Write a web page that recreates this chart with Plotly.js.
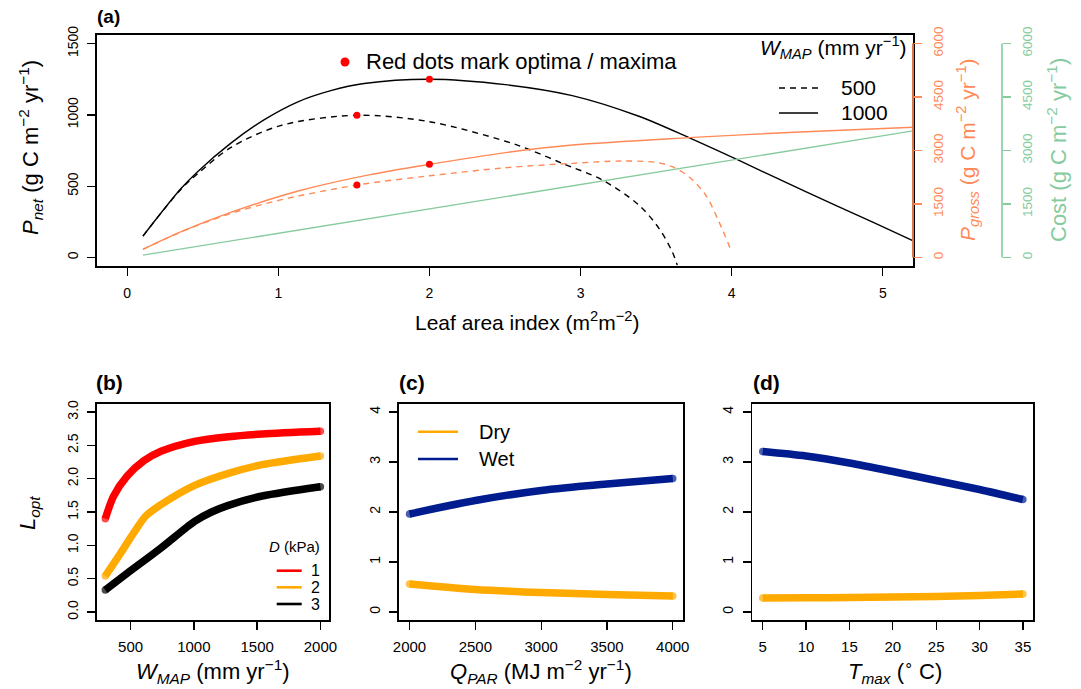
<!DOCTYPE html>
<html>
<head>
<meta charset="utf-8">
<script src="https://cdn.plot.ly/plotly-3.0.1.min.js"></script>
<style>html,body{margin:0;padding:0;background:#fff;}#chart{width:1081px;height:689px;}</style>
</head>
<body>
<div id="chart"></div>
<script>
// ---------------- DATA ----------------
// Panel (a): leaf area index curves
const laiPnet1000 = [0.104, 0.353, 0.464, 0.684, 0.905, 1.126, 1.347, 1.567, 2.0, 2.503, 2.945, 3.386, 3.717, 4.049, 4.49, 4.93, 5.207];
const pnet1000    = [150, 480, 600, 800, 965, 1090, 1170, 1220, 1250, 1212, 1135, 990, 840, 680, 461, 250, 114];
const laiPnet500  = [0.104, 0.353, 0.464, 0.684, 1.015, 1.52, 2.0, 2.503, 2.669, 2.879, 3.144, 3.386, 3.519, 3.607, 3.64];
const pnet500     = [150, 475, 585, 770, 925, 997, 952, 815, 753, 660, 543, 367, 204, 39, -54];
const laiPgross1000 = [0.104, 0.353, 0.684, 1.126, 1.567, 2.0, 2.517, 2.945, 3.717, 4.49, 5.207];
const pgross1000    = [225, 715, 1262, 1857, 2288, 2612, 2949, 3154, 3360, 3528, 3652];
const laiPgross500  = [0.104, 0.353, 0.684, 1.015, 1.52, 2.0, 2.503, 2.945, 3.276, 3.497, 3.607, 3.717, 3.828, 3.916, 4.0];
const pgross500     = [225, 710, 1232, 1613, 2031, 2290, 2517, 2640, 2705, 2668, 2545, 2264, 1750, 1000, 157];
const laiCost = [0.104, 5.207];
const cost    = [65, 3556];
const optLAI    = [1.52, 2.0];
const optPnet   = [997, 1250];
const optPgross = [2031, 2612];
const pnetTicks = [0, 500, 1000, 1500];
const rightTicks = [0, 1500, 3000, 4500, 6000];
const laiTicks = [0, 1, 2, 3, 4, 5];

// Panel (b): L_opt vs W_MAP for D = 1, 2, 3 kPa
const wmapD1 = [300, 366, 473, 606, 740, 1006, 1273, 1540, 2000];
const loptD1 = [1.40, 1.74, 2.04, 2.27, 2.41, 2.56, 2.63, 2.67, 2.71];
const wmapD2 = [300, 420, 526, 620, 740, 1006, 1273, 1540, 2000];
const loptD2 = [0.54, 0.88, 1.19, 1.44, 1.61, 1.90, 2.08, 2.21, 2.34];
const wmapD3 = [300, 473, 740, 1006, 1140, 1273, 1540, 2000];
const loptD3 = [0.33, 0.58, 0.96, 1.36, 1.50, 1.60, 1.74, 1.88];
const bTicksX = [500, 1000, 1500, 2000];
const bTicksY = [0, 0.5, 1, 1.5, 2, 2.5, 3];

// Panel (c): L_opt vs Q_PAR
const qpar   = [2000, 2500, 3000, 3500, 4000];
const qpWet  = [1.96, 2.23, 2.43, 2.56, 2.67];
const qpDry  = [0.56, 0.45, 0.39, 0.35, 0.32];
const cTicksX = [2000, 2500, 3000, 3500, 4000];

// Panel (d): L_opt vs T_max
const tmax  = [5, 10, 15, 20, 25, 30, 35];
const tWet  = [3.21, 3.12, 2.98, 2.81, 2.63, 2.45, 2.25];
const tDry  = [0.28, 0.285, 0.29, 0.30, 0.31, 0.33, 0.36];
const dTicksX = [5, 10, 15, 20, 25, 30, 35];
const cdTicksY = [0, 1, 2, 3, 4];

// ---------------- STYLE ----------------
const W = 1081, H = 689;
const X = px => px / W;
const Y = py => 1 - py / H;
const FONT = 'Liberation Sans, Arial, Helvetica, sans-serif';
const ORANGE = '#FF8A57', GREEN = '#86CB9E', RED = '#FF0000', GOLD = '#FFAA00', NAVY = '#001C8E';

function endCaps(n, s) { const a = new Array(n).fill(0); a[0] = s; a[n - 1] = s; return a; }
function thick(x, y, color, xa, ya) {
  return { x: x, y: y, xaxis: xa, yaxis: ya, mode: 'lines+markers', line: { color: color, width: 7.5, shape: 'spline', smoothing: 0.8 },
    marker: { color: color, size: endCaps(x.length, 7.5), line: { width: 0 } }, hoverinfo: 'skip' };
}
const thin = (color, dash) => ({ color: color, width: 1.4, dash: dash || 'solid', shape: 'spline', smoothing: 0.9 });

const traces = [
  { x: laiCost, y: cost, yaxis: 'y3', xaxis: 'x', mode: 'lines', line: { color: GREEN, width: 1.4 } },
  { x: laiPgross500, y: pgross500, yaxis: 'y2', xaxis: 'x', mode: 'lines', line: thin(ORANGE, '6px,5px') },
  { x: laiPgross1000, y: pgross1000, yaxis: 'y2', xaxis: 'x', mode: 'lines', line: thin(ORANGE) },
  { x: laiPnet500, y: pnet500, yaxis: 'y', xaxis: 'x', mode: 'lines', line: thin('black', '6px,5px') },
  { x: laiPnet1000, y: pnet1000, yaxis: 'y', xaxis: 'x', mode: 'lines', line: thin('black') },
  { x: optLAI, y: optPnet, yaxis: 'y', xaxis: 'x', mode: 'markers', marker: { color: RED, size: 7 } },
  { x: optLAI, y: optPgross, yaxis: 'y2', xaxis: 'x', mode: 'markers', marker: { color: RED, size: 7 } },
  thick(wmapD1, loptD1, RED, 'x2', 'y4'),
  thick(wmapD2, loptD2, GOLD, 'x2', 'y4'),
  thick(wmapD3, loptD3, 'black', 'x2', 'y4'),
  thick(qpar, qpDry, GOLD, 'x3', 'y5'),
  thick(qpar, qpWet, NAVY, 'x3', 'y5'),
  thick(tmax, tDry, GOLD, 'x4', 'y6'),
  thick(tmax, tWet, NAVY, 'x4', 'y6')
];

const baseAxis = {
  showgrid: false, zeroline: false, ticks: 'outside', ticklen: 8, tickwidth: 1.3, tickcolor: 'black',
  showline: true, mirror: true, linecolor: 'black', linewidth: 1.6,
  tickfont: { family: FONT, size: 14, color: 'black' }, fixedrange: true
};
function ax(o) { return Object.assign({}, baseAxis, o); }
const xFont = { family: FONT, size: 15, color: 'black' };

const topDom = [Y(266), Y(35)];
const botDom = [Y(620), Y(404)];

const layout = {
  width: W, height: H, margin: { l: 0, r: 0, t: 0, b: 0 },
  paper_bgcolor: 'white', plot_bgcolor: 'white', showlegend: false,
  font: { family: FONT, color: 'black' },
  xaxis: ax({ domain: [X(97), X(913)], anchor: 'y', range: [-0.2, 5.2], tickvals: laiTicks, ticktext: laiTicks.map(String), ticklabelstandoff: 6, tickfont: { family: FONT, size: 14, color: 'black' } }),
  yaxis: ax({ domain: topDom, anchor: 'x', range: [-60, 1560], tickvals: pnetTicks, ticktext: pnetTicks.map(String), tickangle: -90, ticklabelstandoff: 4 }),
  yaxis2: { overlaying: 'y', side: 'right', anchor: 'x', range: [-240, 6240], tickvals: rightTicks, ticktext: rightTicks.map(String),
    showgrid: false, zeroline: false, showline: false, ticks: 'outside', ticklen: 8, tickwidth: 1.3, tickcolor: ORANGE, tickangle: -90,
    tickfont: { family: FONT, size: 13.5, color: ORANGE }, ticklabelstandoff: 5, fixedrange: true },
  yaxis3: { overlaying: 'y', side: 'right', anchor: 'free', position: X(1002), range: [-240, 6240], tickvals: rightTicks, ticktext: rightTicks.map(String),
    showgrid: false, zeroline: false, showline: false, ticks: 'outside', ticklen: 8, tickwidth: 1.3, tickcolor: GREEN, tickangle: -90,
    tickfont: { family: FONT, size: 13.5, color: GREEN }, ticklabelstandoff: 5, fixedrange: true },
  xaxis2: ax({ domain: [X(96.7), X(329)], anchor: 'y4', range: [232, 2068], tickvals: bTicksX, ticktext: bTicksX.map(String), ticklabelstandoff: 4, tickfont: xFont }),
  yaxis4: ax({ domain: botDom, anchor: 'x2', range: [-0.12, 3.12], tickvals: bTicksY, ticktext: bTicksY.map(v => v.toFixed(1)), tickangle: -90, ticklabelstandoff: 4 }),
  xaxis3: ax({ domain: [X(399), X(683.3)], anchor: 'y5', range: [1920, 4080], tickvals: cTicksX, ticktext: cTicksX.map(String), ticklabelstandoff: 4, tickfont: xFont }),
  yaxis5: ax({ domain: botDom, anchor: 'x3', range: [-0.16, 4.16], tickvals: cdTicksY, ticktext: cdTicksY.map(String), tickangle: -90, ticklabelstandoff: 4 }),
  xaxis4: ax({ domain: [X(752.3), X(1033.3)], anchor: 'y6', range: [3.8, 36.2], tickvals: dTicksX, ticktext: dTicksX.map(String), ticklabelstandoff: 4, tickfont: xFont }),
  yaxis6: ax({ domain: botDom, anchor: 'x4', range: [-0.16, 4.16], tickvals: cdTicksY, ticktext: cdTicksY.map(String), tickangle: -90, ticklabelstandoff: 4 }),
  shapes: [
    { type: 'line', xref: 'paper', yref: 'y2', x0: X(913), x1: X(913), y0: 0, y1: 6000, line: { color: '#D9784A', width: 2 } },
    { type: 'line', xref: 'paper', yref: 'y3', x0: X(1002), x1: X(1002), y0: 0, y1: 6000, line: { color: GREEN, width: 1.6 } },
    // legend dot (a)
    { type: 'circle', xref: 'paper', yref: 'paper', x0: X(340.5), x1: X(349.5), y0: Y(66.5), y1: Y(57.5), fillcolor: RED, line: { width: 0 } },
    // legend lines (a)
    { type: 'line', xref: 'paper', yref: 'paper', x0: X(779), x1: X(818), y0: Y(88), y1: Y(88), line: { color: 'black', width: 1.4, dash: '6px,5px' } },
    { type: 'line', xref: 'paper', yref: 'paper', x0: X(779), x1: X(818), y0: Y(113), y1: Y(113), line: { color: 'black', width: 1.4 } },
    // legend lines (b)
    { type: 'line', xref: 'paper', yref: 'paper', x0: X(276.7), x1: X(301.7), y0: Y(570.7), y1: Y(570.7), line: { color: RED, width: 2.6 } },
    { type: 'line', xref: 'paper', yref: 'paper', x0: X(276.7), x1: X(301.7), y0: Y(587.3), y1: Y(587.3), line: { color: GOLD, width: 2.6 } },
    { type: 'line', xref: 'paper', yref: 'paper', x0: X(276.7), x1: X(301.7), y0: Y(604), y1: Y(604), line: { color: 'black', width: 2.6 } },
    // legend lines (c)
    { type: 'line', xref: 'paper', yref: 'paper', x0: X(418), x1: X(458), y0: Y(431.7), y1: Y(431.7), line: { color: GOLD, width: 2.6 } },
    { type: 'line', xref: 'paper', yref: 'paper', x0: X(418), x1: X(458), y0: Y(459), y1: Y(459), line: { color: NAVY, width: 2.6 } }
  ],
  annotations: []
};

function ann(text, px, py, size, opts) {
  layout.annotations.push(Object.assign({ text: text, xref: 'paper', yref: 'paper', x: X(px), y: Y(py), showarrow: false,
    font: { family: FONT, size: size, color: 'black' }, xanchor: 'center', yanchor: 'middle' }, opts || {}));
}
// panel labels
ann('<b>(a)</b>', 95, 17, 19, { xanchor: 'left' });
ann('<b>(b)</b>', 94, 382, 21, { xanchor: 'left' });
ann('<b>(c)</b>', 397, 382, 21, { xanchor: 'left' });
ann('<b>(d)</b>', 751, 382, 21, { xanchor: 'left' });
// axis titles (a)
ann('Leaf area index (m<sup>2</sup>m<sup>−2</sup>)', 527, 321, 21);
ann('<i>P<sub>net</sub></i> (g C m<sup>−2</sup> yr<sup>−1</sup>)', 30, 148, 22, { textangle: -90 });
ann('<i>P<sub>gross</sub></i> (g C m<sup>−2</sup> yr<sup>−1</sup>)', 968, 150, 21, { textangle: -90, font: { family: FONT, size: 21, color: ORANGE } });
ann('Cost (g C m<sup>−2</sup> yr<sup>−1</sup>)', 1057, 150, 22, { textangle: -90, font: { family: FONT, size: 22, color: GREEN } });
// legends (a)
ann('Red dots mark optima / maxima', 364, 61, 22, { xanchor: 'left' });
ann('<i>W<sub>MAP</sub></i> (mm yr<sup>−1</sup>)', 909, 47, 21, { xanchor: 'right' });
ann('500', 839, 88, 21, { xanchor: 'left' });
ann('1000', 839, 113, 21, { xanchor: 'left' });
// lower titles
ann('<i>L<sub>opt</sub></i>', 29, 513, 22, { textangle: -90 });
ann('<i>W<sub>MAP</sub></i> (mm yr<sup>−1</sup>)', 213, 671, 22);
ann('<i>Q<sub>PAR</sub></i> (MJ m<sup>−2</sup> yr<sup>−1</sup>)', 541, 671, 22);
ann('<i>T<sub>max</sub></i> (<sup>∘</sup> C)', 895, 671, 22);
// legend (b)
ann('<i>D</i> (kPa)', 322, 546, 15, { xanchor: 'right' });
ann('1', 322, 570.7, 16, { xanchor: 'right' });
ann('2', 322, 587.3, 16, { xanchor: 'right' });
ann('3', 322, 604, 16, { xanchor: 'right' });
// legend (c)
ann('Dry', 477, 431.7, 20, { xanchor: 'left' });
ann('Wet', 477, 459, 20, { xanchor: 'left' });

Plotly.newPlot('chart', traces, layout, { staticPlot: true, displayModeBar: false });
</script>
</body>
</html>
